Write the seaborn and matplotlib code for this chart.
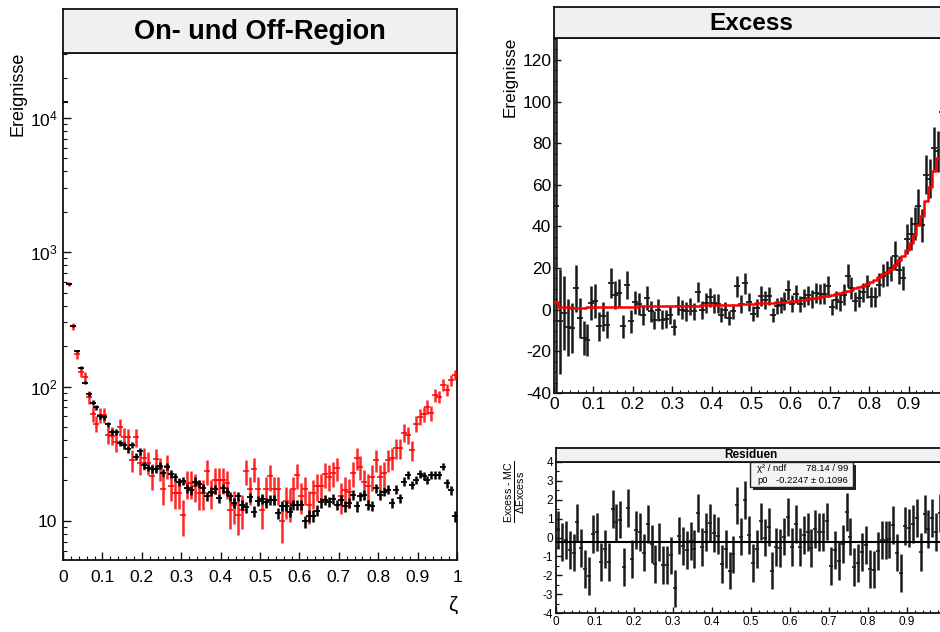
import numpy as np
import matplotlib
matplotlib.use("Agg")
import matplotlib.pyplot as plt
from matplotlib.patches import Rectangle
from matplotlib.ticker import FixedLocator, MultipleLocator, FuncFormatter, LogLocator, NullFormatter
import seaborn as sns

sns.set_style("ticks")
plt.rcParams['font.family'] = ['Liberation Sans', 'DejaVu Sans']
plt.rcParams['mathtext.fontset'] = 'custom'
plt.rcParams['mathtext.rm'] = 'Liberation Sans'
plt.rcParams['mathtext.sf'] = 'Liberation Sans'
plt.rcParams['mathtext.it'] = 'Liberation Sans:italic'
plt.rcParams['mathtext.bf'] = 'Liberation Sans:bold'
for k in ['text.color', 'axes.labelcolor', 'xtick.color', 'ytick.color']:
    plt.rcParams[k] = 'black'

# ---------------- data ----------------
n_bins = 100
bin_edges = np.linspace(0.0, 1.0, n_bins + 1)
bin_centers = 0.5 * (bin_edges[:-1] + bin_edges[1:])

on_counts = [13200, 580, 282, 174, 129, 117, 83, 62.5, 53, 61,
             61.5, 43.6, 43, 38.5, 50, 42.4, 41.7, 28.4, 41.7, 27,
             29.2, 27.1, 21.6, 29, 24.6, 17.2, 25.6, 18.2, 16.2, 16.2,
             11, 19, 19, 18, 16.0, 16.0, 23.3, 16.2, 20.2, 20.2,
             20.2, 19.0, 12.1, 13.1, 11.1, 12.1, 23.3, 17.2, 24.4, 17.2,
             12.1, 17.2, 21.4, 17.2, 17.2, 10.0, 14.1, 13.5, 17.2, 22.0,
             15.2, 17.2, 13.1, 16.2, 18.2, 18.2, 22.3, 21.3, 22.6, 24.6,
             15.2, 17.0, 16.5, 22.6, 29.2, 25.3, 19.6, 18.0, 21.3, 28.4,
             21.3, 22.6, 28.4, 29.2, 34.7, 34.7, 45.4, 43.6, 33.7, 52.7,
             59.7, 62.5, 70.9, 63.2, 86.6, 84.1, 102.8, 94.3, 112, 122]

off_counts = [13150, 580, 282, 184, 138, 107, 88, 76, 70, 60,
              59, 52.5, 46, 46, 38, 36.4, 34, 36.7, 30, 32.8,
              26, 24.9, 24.3, 24.3, 25.7, 22.6, 25.3, 22.3, 21.3, 19.4,
              19.9, 17.5, 16.8, 19.6, 18.8, 17.5, 15.2, 16.5, 17.2, 14.7,
              17.5, 16.5, 15.2, 13.5, 15.2, 13.1, 12.6, 14.9, 11.7, 14.1,
              14.5, 13.7, 14.3, 14.3, 11.4, 12.9, 12.9, 11.7, 13.1, 13.1,
              13.1, 9.9, 10.9, 10.9, 11.9, 13.7, 14.3, 13.9, 14.5, 13.1,
              14.3, 12.8, 13.5, 15.6, 12.8, 15.2, 15.6, 13.1, 12.9, 17.5,
              15.6, 16.5, 17.0, 13.5, 17.0, 14.7, 19.6, 22.0, 18.5, 20.2,
              22.4, 21.6, 20.2, 22.0, 22.0, 22.0, 25.3, 19.0, 16.8, 10.8]

off_scale = 0.1   # on/off exposure ratio (sets the error size of the off data)

excess = [50, -5.6, -1.6, -8.5, -8.8, 10.4, -4, -13.6, -14.4, 3.2,
          4, -8, -3.2, -7.2, 12.8, 7.2, 8, -8, 12, -5.6,
          3.5, 2.7, -2.4, 5.6, -0.8, -4.8, 0, -4.8, -4.5, -2.4,
          -8.3, 1.9, 0, -0.8, 1.6, -0.8, 8.5, 0, 3.2, 6,
          3, 2.9, -2.4, 0, -4, -0.8, 11.2, 2.9, 12.8, 3.5,
          -1.9, 0.8, 6.7, 4.8, 6.4, -2.4, 1.9, 2.4, 4, 9.3,
          2.9, 7.5, 2.9, 5.6, 6.9, 5.1, 8, 7.7, 7.7, 11.2,
          1.3, 4.8, 3.5, 7.2, 16.3, 10.4, 4, 5.6, 8.3, 11.2,
          6, 6, 12, 16.3, 17.6, 20, 26, 19.2, 15.2, 34,
          36.5, 41.3, 49.6, 40.5, 64.8, 62.9, 77.6, 76, 95, 111]

mc_excess = [3.5, 1.3, 1.2, 1.1, 1.0, 1.0, 1.0, 1.0, 1.1, 1.1,
             1.2, 1.2, 1.3, 1.3, 1.3, 1.4, 1.4, 1.4, 1.5, 1.5,
             1.5, 1.6, 1.6, 1.6, 1.6, 1.7, 1.7, 1.7, 1.7, 1.8,
             1.8, 1.8, 1.9, 1.9, 2.0, 2.0, 2.0, 2.1, 2.1, 2.2,
             2.2, 2.3, 2.3, 2.4, 2.4, 2.5, 2.5, 2.6, 2.7, 2.8,
             2.9, 3.0, 3.1, 3.2, 3.3, 3.4, 3.5, 3.6, 3.8, 3.9,
             4.1, 4.3, 4.5, 4.8, 5.1, 5.4, 5.7, 6.0, 6.4, 6.8,
             7.2, 7.6, 8.1, 8.5, 9.0, 9.6, 10.2, 10.8, 11.5, 12.3,
             13.5, 14.5, 15.8, 17.0, 18.3, 19.5, 21.5, 24.0, 26.0, 28.5,
             32.0, 36.0, 40.5, 45.0, 52.0, 59.0, 66.5, 73.0, 80.0, 88.0]

residuals = [0.4, -0.25, -0.15, -0.65, -0.8, 0.8, -0.55, -1.65, -2.05, 0.2,
             0.3, -1.3, -0.6, -1.3, 1.5, 0.8, 0.95, -1.55, 1.55, -1.15,
             0.4, 0.3, -0.8, 0.7, -0.35, -1.4, -0.25, -1.45, -1.45, -0.95,
             -2.7, 0.1, -0.45, -0.65, -0.2, -0.6, 1.3, -0.5, 0.3, 0.75,
             0.25, 0.1, -1.4, -0.6, -1.75, -0.9, 1.7, 0.05, 2.0, 0.15,
             -1.35, -0.6, 0.85, 0.0, 0.55, -1.75, -0.5, -0.55, 0.05, 1.1,
             -0.5, 0.7, -0.5, 0.15, 0.3, -0.55, 0.45, 0.3, 0.3, 0.85,
             -1.5, -0.65, -1.25, -0.35, 1.35, 0.05, -1.55, -1.35, -0.75, -0.4,
             -1.65, -1.7, -0.7, -0.15, -0.15, -0.1, 0.65, -0.8, -1.9, 0.6,
             0.5, 0.7, 1.05, -0.75, 1.25, 0.45, 1.05, 0.3, 1.3, 1.9]
residual_err = [1.0] * n_bins

fit_p0 = -0.2247
stats_lines = [("\u03c7\u00b2 / ndf", "78.14 / 99"), ("p0", "-0.2247 \u00b1 0.1096")]

right_xticks = [0.0, 0.1, 0.2, 0.3, 0.4, 0.5, 0.6, 0.7, 0.8, 0.9]

on = np.array(on_counts, float)
off = np.array(off_counts, float)
on_err = np.sqrt(on)
off_err = np.sqrt(off * off_scale)
exc = np.array(excess, float)
exc_err = np.sqrt(on + off_scale * off)

# ---------------- layout helpers ----------------
W, H = 940, 632
fig = plt.figure(figsize=(W / 100, H / 100), dpi=100)
fig.patch.set_facecolor('white')


def rect(x0, y0, x1, y1):
    return [x0 / W, (H - y1) / H, (x1 - x0) / W, (y1 - y0) / H]


def title_box(x0, y0, x1, y1, text, size):
    tb = fig.add_axes(rect(x0, y0, x1, y1))
    tb.set_facecolor('#f0f0f0')
    tb.set_xticks([]); tb.set_yticks([])
    for s in tb.spines.values():
        s.set_linewidth(1.3); s.set_color('#111111')
    tb.text(0.5, 0.47, text, ha='center', va='center', fontsize=size,
            fontweight='bold', color='black', transform=tb.transAxes)
    return tb


def style_axes(ax, major_len=5, minor_len=2.5, labelsize=10):
    for side in ['left', 'bottom', 'right', 'top']:
        ax.spines[side].set_linewidth(1.3)
        ax.spines[side].set_color('#111111')
    ax.tick_params(which='both', direction='in', left=True, bottom=True,
                   right=False, top=False, colors='#111111', labelcolor='black',
                   labelsize=labelsize)
    ax.tick_params(which='major', length=major_len, width=1.0)
    ax.tick_params(which='minor', length=minor_len, width=0.8)


def fmt_dec(v, p):
    if abs(v) < 1e-9:
        return '0'
    if abs(v - 1) < 1e-9:
        return '1'
    return f'{v:.1f}'


# ---------------- left panel: On and Off ----------------
ax1 = fig.add_axes(rect(63, 53, 457, 560))
ax1.errorbar(bin_centers, on, yerr=on_err, fmt='_', color='#ff0000', ms=4, mew=1.3,
             elinewidth=1.8, capsize=0, alpha=0.85, zorder=3)
ax1.errorbar(bin_centers, off, yerr=off_err, fmt='_', color='#000000', ms=4, mew=1.3,
             elinewidth=1.8, capsize=0, zorder=4)
ax1.set_yscale('log')
ax1.set_xlim(0, 1)
ax1.set_ylim(5.1, 30500)
ax1.xaxis.set_major_locator(MultipleLocator(0.1))
ax1.xaxis.set_minor_locator(MultipleLocator(0.02))
ax1.xaxis.set_major_formatter(FuncFormatter(fmt_dec))
ax1.yaxis.set_major_locator(FixedLocator([10, 100, 1000, 10000]))
ax1.yaxis.set_major_formatter(FuncFormatter(lambda v, p: '10' if abs(v - 10) < 1e-6 else r'$10^{%d}$' % int(round(np.log10(v)))))
ax1.yaxis.set_minor_locator(LogLocator(base=10, subs=np.arange(2, 10)))
ax1.yaxis.set_minor_formatter(NullFormatter())
style_axes(ax1, major_len=6, minor_len=3, labelsize=12.5)
ax1.tick_params(axis='x', pad=7)
ax1.tick_params(axis='y', pad=4)
title_box(63, 9, 457, 53, 'On- und Off-Region', 19.5)
fig.text(18 / W, 1 - 52 / H, 'Ereignisse', rotation=90, ha='center', va='top', fontsize=13)
fig.text(453 / W, 1 - 605 / H, '\u03b6', ha='center', va='center', fontsize=15)

# ---------------- right top panel: Excess ----------------
ax2 = fig.add_axes(rect(554, 38, 948, 393))
ax2.errorbar(bin_centers, exc, yerr=exc_err, fmt='_', color='#1a1a1a', ms=4, mew=1.3,
             elinewidth=1.8, capsize=0, zorder=3)
step_x = list(bin_edges)
step_y = list(mc_excess) + [mc_excess[-1]]
sns.lineplot(x=step_x, y=step_y, drawstyle='steps-post', color='#ff0000', lw=1.8,
             ax=ax2, zorder=4, estimator=None, sort=False)
ax2.set_xlim(0, 1)
ax2.set_ylim(-40, 130.5)
ax2.set_xlabel(''); ax2.set_ylabel('')
ax2.xaxis.set_major_locator(FixedLocator(right_xticks))
ax2.xaxis.set_minor_locator(MultipleLocator(0.02))
ax2.xaxis.set_major_formatter(FuncFormatter(fmt_dec))
ax2.yaxis.set_major_locator(MultipleLocator(20))
ax2.yaxis.set_minor_locator(MultipleLocator(5))
ax2.yaxis.set_major_formatter(FuncFormatter(lambda v, p: f'{int(round(v))}'))
style_axes(ax2, major_len=5, minor_len=2.5, labelsize=12.5)
ax2.tick_params(axis='x', pad=3)
ax2.tick_params(axis='y', pad=2)
title_box(554, 7, 948, 38, 'Excess', 17.5)
fig.text(510 / W, 1 - 37 / H, 'Ereignisse', rotation=90, ha='center', va='top', fontsize=12.3)

# ---------------- right bottom panel: residuals ----------------
ax3 = fig.add_axes(rect(556, 462, 946, 613))
ax3.errorbar(bin_centers, residuals, yerr=residual_err, fmt='_', color='#1a1a1a', ms=3.5,
             mew=1.2, elinewidth=1.8, capsize=0, zorder=3)
ax3.axhline(fit_p0, color='#000000', lw=1.5, zorder=4)
ax3.set_xlim(0, 1)
ax3.set_ylim(-4, 4)
ax3.xaxis.set_major_locator(FixedLocator(right_xticks))
ax3.xaxis.set_minor_locator(MultipleLocator(0.02))
ax3.xaxis.set_major_formatter(FuncFormatter(fmt_dec))
ax3.yaxis.set_major_locator(MultipleLocator(1))
ax3.yaxis.set_minor_locator(MultipleLocator(0.5))
ax3.yaxis.set_major_formatter(FuncFormatter(lambda v, p: f'{int(round(v))}'))
style_axes(ax3, major_len=4, minor_len=2, labelsize=8.5)
ax3.tick_params(axis='x', pad=2)
ax3.tick_params(axis='y', pad=2)
title_box(556, 448, 946, 462, 'Residuen', 8.5)
fig.text(516 / W, 1 - 461 / H, '$\\frac{\\mathsf{Excess\\ \u2010\\ MC}}{\\Delta\\mathsf{Excess}}$',
         rotation=90, ha='center', va='top', fontsize=11)

# stats box
shadow = Rectangle(((750 + 3) / W, 1 - (487 + 3) / H), 103 / W, 25 / H,
                   transform=fig.transFigure, facecolor='#222222', edgecolor='none', zorder=10)
box = Rectangle((750 / W, 1 - 487 / H), 103 / W, 25 / H, transform=fig.transFigure,
                facecolor='#f4f4f4', edgecolor='#222222', lw=1.0, zorder=11)
fig.add_artist(shadow)
fig.add_artist(box)
for i, (lab, val) in enumerate(stats_lines):
    yy = 1 - (468.5 + i * 12) / H
    fig.text(757 / W, yy, lab, ha='left', va='center', fontsize=6.8, zorder=12)
    fig.text(848 / W, yy, val, ha='right', va='center', fontsize=6.8, zorder=12)

fig.savefig('out.png', dpi=100)
